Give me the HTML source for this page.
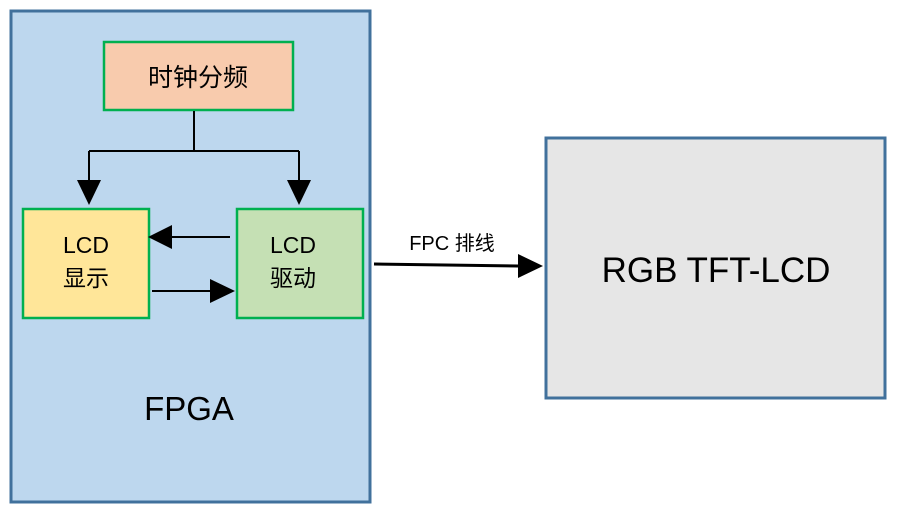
<!DOCTYPE html>
<html><head><meta charset="utf-8"><style>
body{margin:0;background:#fff;width:899px;height:518px;overflow:hidden;font-family:"Liberation Sans","Noto Sans CJK SC",sans-serif;}
</style></head><body>
<svg width="899" height="518" xmlns="http://www.w3.org/2000/svg" font-family="Liberation Sans, Noto Sans CJK SC, sans-serif">
<rect x="11" y="11" width="359" height="491" fill="#BDD7EE" stroke="#41719C" stroke-width="3"/>
<rect x="104" y="42" width="189" height="68" fill="#F8CBAD" stroke="#00B050" stroke-width="2.5"/>
<text x="198" y="86" font-size="25" text-anchor="middle" fill="#000">时钟分频</text>
<rect x="23" y="209" width="126" height="109" fill="#FFE699" stroke="#00B050" stroke-width="2.5"/>
<text x="86" y="253" font-size="23" text-anchor="middle">LCD</text>
<text x="86" y="286" font-size="23" text-anchor="middle">显示</text>
<rect x="237" y="209" width="126" height="109" fill="#C5E0B4" stroke="#00B050" stroke-width="2.5"/>
<text x="293" y="253" font-size="23" text-anchor="middle">LCD</text>
<text x="293" y="286" font-size="23" text-anchor="middle">驱动</text>
<text x="189" y="420" font-size="33" text-anchor="middle">FPGA</text>
<path d="M194 111 V151 M89 151 H299 M89 151 V180 M299 151 V180" stroke="#000" stroke-width="2" fill="none"/>
<polygon points="77,180 101,180 89,205" fill="#000"/>
<polygon points="287,180 311,180 299,205" fill="#000"/>
<line x1="230" y1="237" x2="172" y2="237" stroke="#000" stroke-width="2"/>
<polygon points="172,225 172,249 148,237" fill="#000"/>
<line x1="152" y1="291" x2="210" y2="291" stroke="#000" stroke-width="2"/>
<polygon points="210,279 210,303 235,291" fill="#000"/>
<line x1="374" y1="264" x2="518" y2="266" stroke="#000" stroke-width="3"/>
<polygon points="518,254 518,278 543,266" fill="#000"/>
<text x="452" y="250" font-size="20" text-anchor="middle">FPC 排线</text>
<rect x="546" y="138" width="339" height="260" fill="#E6E6E6" stroke="#41719C" stroke-width="3"/>
<text x="716" y="282" font-size="35" text-anchor="middle">RGB TFT-LCD</text>
</svg>
</body></html>
